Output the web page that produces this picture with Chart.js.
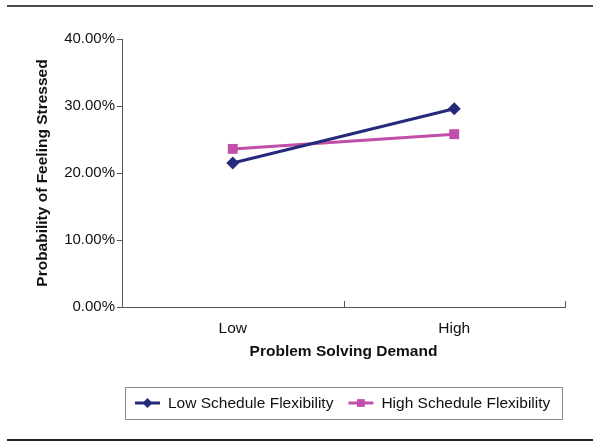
<!DOCTYPE html>
<html>
<head>
<meta charset="utf-8">
<script src="https://cdn.jsdelivr.net/npm/chart.js@4/dist/chart.umd.min.js"></script>
<style>
  html, body { margin: 0; padding: 0; background: #fff; }
  #wrap { width: 600px; height: 448px; position: relative; }
</style>
</head>
<body>
<div id="wrap"><canvas id="chart" width="600" height="448"></canvas></div>
<script>
const categories = ['Low', 'High'];
const lowFlex = [21.5, 29.6];   // Low Schedule Flexibility
const highFlex = [23.6, 25.8];  // High Schedule Flexibility
const seriesNames = ['Low Schedule Flexibility', 'High Schedule Flexibility'];
const yTicks = [0, 10, 20, 30, 40];

const FONT = 'Arial, "Liberation Sans", sans-serif';
const NAVY = '#262a7a';
const PINK = '#c04fa9';
const AXIS = '#555';

// rules, inward x ticks and the boxed legend
const decor = {
    id: 'decor',
    afterDraw(chart) {
        const ctx = chart.ctx;
        const area = chart.chartArea;
        const x = chart.scales.x;
        ctx.save();

        ctx.fillStyle = '#4a4a4a';
        ctx.fillRect(7, 5, 586, 2);
        ctx.fillStyle = '#222';
        ctx.fillRect(7, 439, 586, 2);

        // small upward ticks on the category axis
        ctx.strokeStyle = AXIS;
        ctx.lineWidth = 1;
        const mid = (x.getPixelForValue(0) + x.getPixelForValue(1)) / 2;
        [mid, area.right].forEach(px => {
            ctx.beginPath();
            ctx.moveTo(Math.round(px) + 0.5, area.bottom);
            ctx.lineTo(Math.round(px) + 0.5, area.bottom - 6);
            ctx.stroke();
        });

        // legend box
        const top = 387, h = 32, left = 125, right = 562;
        ctx.strokeStyle = '#888';
        ctx.strokeRect(left + 0.5, top + 0.5, right - left, h);
        ctx.font = '15.5px ' + FONT;
        ctx.textBaseline = 'middle';
        const cy = top + h / 2;
        let cx = left + 10;
        chart.data.datasets.forEach((ds, i) => {
            ctx.strokeStyle = ds.borderColor;
            ctx.lineWidth = 3;
            ctx.beginPath();
            ctx.moveTo(cx, cy);
            ctx.lineTo(cx + 25, cy);
            ctx.stroke();
            ctx.fillStyle = ds.borderColor;
            Chart.helpers.drawPoint(ctx, {
                pointStyle: ds.pointStyle, radius: ds.pointRadius - 1.5, rotation: 0, borderWidth: 0
            }, cx + 12.5, cy);
            ctx.fillStyle = '#111';
            ctx.fillText(ds.label, cx + 33, cy + 1);
            cx += 33 + ctx.measureText(ds.label).width + 15;
        });
        ctx.restore();
    }
};

new Chart(document.getElementById('chart').getContext('2d'), {
    type: 'line',
    data: {
        labels: categories,
        datasets: [
            {
                label: seriesNames[0],
                data: lowFlex,
                borderColor: NAVY,
                backgroundColor: NAVY,
                borderWidth: 3,
                pointStyle: 'rectRot',
                pointRadius: 6.5,
                pointBorderWidth: 0,
            },
            {
                label: seriesNames[1],
                data: highFlex,
                borderColor: PINK,
                backgroundColor: PINK,
                borderWidth: 3,
                pointStyle: 'rect',
                pointRadius: 7,
                pointBorderWidth: 0,
            },
        ],
    },
    options: {
        responsive: false,
        animation: false,
        layout: { padding: { top: 39, left: 29, right: 35, bottom: 87 } },
        plugins: {
            legend: { display: false },
            tooltip: { enabled: false },
        },
        scales: {
            x: {
                offset: true,
                grid: { display: false },
                border: { color: AXIS, width: 1 },
                ticks: { color: '#111', padding: 4, font: { family: FONT, size: 15.5 } },
                title: {
                    display: true,
                    text: 'Problem Solving Demand',
                    color: '#111',
                    padding: { top: 0, bottom: 0 },
                    font: { family: FONT, size: 15.5, weight: 'bold' },
                },
                afterFit(scale) { scale.height = 54; },
            },
            y: {
                min: 0,
                max: 40,
                afterBuildTicks(scale) { scale.ticks = yTicks.map(v => ({ value: v })); },
                grid: { drawOnChartArea: false, drawTicks: true, tickLength: 5, color: AXIS },
                border: { color: AXIS, width: 1 },
                ticks: {
                    color: '#111',
                    padding: 2,
                    font: { family: FONT, size: 15 },
                    callback: v => v.toFixed(2) + '%',
                },
                title: {
                    display: true,
                    text: 'Probability of Feeling Stressed',
                    color: '#111',
                    padding: { top: 4, bottom: 0 },
                    font: { family: FONT, size: 15.5, weight: 'bold' },
                },
                afterFit(scale) { scale.width = 93; },
            },
        },
    },
    plugins: [decor],
});
</script>
</body>
</html>
